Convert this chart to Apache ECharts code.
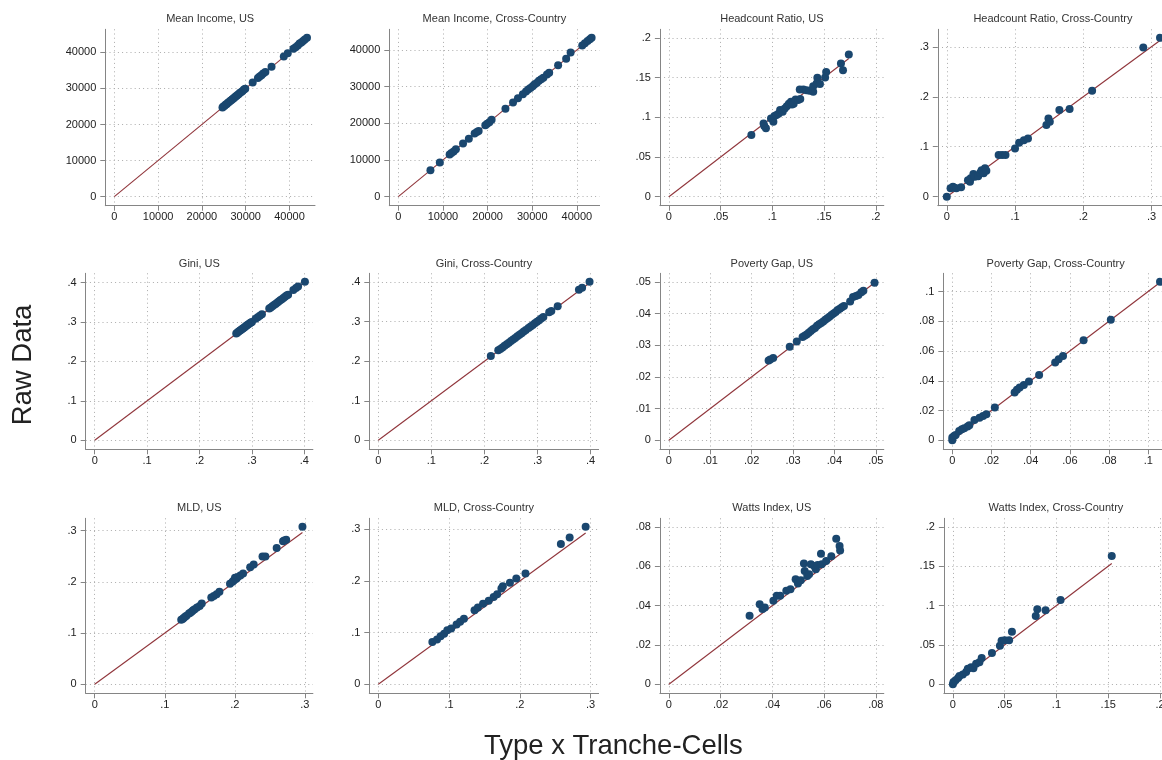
<!DOCTYPE html>
<html>
<head>
<meta charset="utf-8">
<script src="https://cdn.jsdelivr.net/npm/echarts@6/dist/echarts.min.js"></script>
<style>
html,body{margin:0;padding:0;background:#fff;}
#chart{width:1162px;height:760px;}
</style>
</head>
<body>
<div id="chart"></div>
<script>
// ---------- DATA ----------
const panelTitles = ["Mean Income, US","Mean Income, Cross-Country","Headcount Ratio, US","Headcount Ratio, Cross-Country",
  "Gini, US","Gini, Cross-Country","Poverty Gap, US","Poverty Gap, Cross-Country",
  "MLD, US","MLD, Cross-Country","Watts Index, US","Watts Index, Cross-Country"];
const yAxisTitle = "Raw Data";
const xAxisTitle = "Type x Tranche-Cells";

const ticksIncome = [0,10000,20000,30000,40000];
const ticksHeadUS = [0,0.05,0.1,0.15,0.2];
const ticksHeadCC = [0,0.1,0.2,0.3];
const ticksGini = [0,0.1,0.2,0.3,0.4];
const ticksGapUS = [0,0.01,0.02,0.03,0.04,0.05];
const ticksGapCC = [0,0.02,0.04,0.06,0.08,0.1];
const ticksMLD = [0,0.1,0.2,0.3];
const ticksWattsUS = [0,0.02,0.04,0.06,0.08];
const ticksWattsCC = [0,0.05,0.1,0.15,0.2];

const meanIncomeUS = [[24700,24700],[24900,24950],[25200,25150],[25450,25500],[25700,25700],[25950,26000],[26200,26200],[26450,26500],[26700,26700],[26950,27000],[27200,27200],[27450,27450],[27700,27750],[27950,27950],[28200,28250],[28450,28450],[28700,28750],[29000,29000],[29300,29300],[29600,29650],[29900,29900],[31600,31600],[32800,32900],[33200,33300],[33600,33600],[34000,34100],[34500,34500],[35900,36000],[38700,38800],[39600,39700],[40900,41000],[41400,41400],[41900,41900],[42300,42400],[42700,42700],[43100,43100],[43500,43500],[44000,44000]];
const meanIncomeCC = [[7200,7200],[9300,9300],[11500,11500],[11900,11900],[12400,12300],[12900,12900],[14500,14500],[15800,15800],[17100,17200],[17600,17600],[18000,17900],[19500,19500],[19900,19900],[20400,20300],[20900,21000],[24000,24000],[25700,25700],[26800,26800],[27900,27900],[28600,28700],[29100,29200],[29600,29600],[30100,30100],[30500,30600],[31000,31000],[31500,31600],[32000,32000],[32500,32400],[33300,33300],[33800,33800],[35800,35800],[37600,37600],[38600,39300],[41200,41200],[41800,41800],[42400,42400],[42900,42900],[43300,43300]];
const headcountUS = [[0.0797,0.0776],[0.0915,0.0922],[0.0922,0.0889],[0.0938,0.0860],[0.0987,0.0985],[0.1010,0.0943],[0.1020,0.1015],[0.1040,0.1027],[0.1060,0.1045],[0.1075,0.1090],[0.1100,0.1070],[0.1120,0.1110],[0.1140,0.1140],[0.1160,0.1170],[0.1180,0.1195],[0.1190,0.1160],[0.1206,0.1170],[0.1225,0.1224],[0.1250,0.1216],[0.1270,0.1230],[0.1265,0.1350],[0.1300,0.1350],[0.1330,0.1340],[0.1360,0.1333],[0.1395,0.1320],[0.1395,0.1390],[0.1428,0.1426],[0.1435,0.1497],[0.1460,0.1417],[0.1510,0.1500],[0.1520,0.1570],[0.1663,0.1677],[0.1683,0.1590],[0.1739,0.1790]];
const headcountCC = [[0,0],[0.0055,0.0167],[0.009,0.020],[0.011,0.018],[0.014,0.0167],[0.021,0.0187],[0.031,0.033],[0.034,0.030],[0.035,0.0367],[0.039,0.0453],[0.041,0.040],[0.046,0.041],[0.049,0.048],[0.051,0.053],[0.054,0.0467],[0.056,0.0567],[0.058,0.052],[0.076,0.0833],[0.081,0.0833],[0.086,0.0833],[0.100,0.0967],[0.106,0.108],[0.113,0.113],[0.119,0.1167],[0.146,0.1433],[0.149,0.1567],[0.151,0.150],[0.165,0.1733],[0.180,0.1753],[0.213,0.212],[0.288,0.2987],[0.3125,0.318]];
const giniUS = [[0.270,0.271],[0.272,0.273],[0.274,0.275],[0.276,0.277],[0.278,0.279],[0.280,0.281],[0.282,0.283],[0.284,0.285],[0.286,0.287],[0.288,0.289],[0.290,0.291],[0.292,0.293],[0.294,0.295],[0.296,0.297],[0.298,0.299],[0.300,0.300],[0.307,0.308],[0.311,0.312],[0.315,0.316],[0.319,0.320],[0.333,0.334],[0.336,0.337],[0.339,0.340],[0.342,0.343],[0.345,0.346],[0.348,0.349],[0.351,0.352],[0.354,0.355],[0.357,0.358],[0.360,0.361],[0.363,0.364],[0.366,0.367],[0.369,0.369],[0.379,0.381],[0.384,0.386],[0.388,0.390],[0.401,0.402]];
const giniCC = [[0.212,0.213],[0.226,0.228],[0.230,0.231],[0.234,0.235],[0.238,0.239],[0.242,0.243],[0.246,0.247],[0.250,0.251],[0.254,0.255],[0.258,0.259],[0.262,0.263],[0.266,0.267],[0.270,0.271],[0.274,0.275],[0.278,0.279],[0.283,0.284],[0.287,0.288],[0.291,0.292],[0.295,0.296],[0.299,0.300],[0.303,0.304],[0.307,0.308],[0.311,0.312],[0.322,0.324],[0.326,0.327],[0.338,0.339],[0.378,0.381],[0.384,0.386],[0.398,0.401]];
const povertyGapUS = [[0.0241,0.0252],[0.0245,0.0255],[0.0252,0.0260],[0.0292,0.0295],[0.0309,0.0312],[0.0323,0.0326],[0.0328,0.0330],[0.0333,0.0334],[0.0338,0.0339],[0.0343,0.0345],[0.0348,0.0350],[0.0353,0.0354],[0.0358,0.0361],[0.0363,0.0366],[0.0368,0.0370],[0.0373,0.0375],[0.0378,0.0380],[0.0383,0.0385],[0.0388,0.0390],[0.0393,0.0395],[0.0398,0.0400],[0.0403,0.0405],[0.0408,0.0411],[0.0413,0.0415],[0.0418,0.0420],[0.0423,0.0424],[0.0438,0.0438],[0.0445,0.0452],[0.0452,0.0455],[0.0458,0.0458],[0.0465,0.0467],[0.0470,0.0472],[0.0497,0.0497]];
const povertyGapCC = [[0,0],[0,0.0018],[0.0009,0.0029],[0.0017,0.0036],[0.0035,0.0063],[0.0049,0.0074],[0.0061,0.0081],[0.0078,0.0092],[0.0087,0.0101],[0.0113,0.0137],[0.0139,0.0152],[0.0157,0.0164],[0.0174,0.0175],[0.0217,0.0220],[0.0318,0.0321],[0.0330,0.0339],[0.0344,0.0354],[0.0365,0.0372],[0.0391,0.0395],[0.0443,0.0439],[0.0525,0.0522],[0.0543,0.0545],[0.0565,0.0567],[0.0670,0.0673],[0.0809,0.0810],[0.1060,0.1065]];
const mldUS = [[0.1235,0.1260],[0.1255,0.1275],[0.1270,0.1293],[0.1290,0.1320],[0.1310,0.1338],[0.1346,0.1383],[0.1365,0.1400],[0.1387,0.1422],[0.1405,0.1445],[0.1427,0.1467],[0.1460,0.1500],[0.1498,0.1532],[0.1528,0.1577],[0.1664,0.1694],[0.1700,0.1726],[0.1740,0.1758],[0.1780,0.1810],[0.1931,0.1965],[0.1967,0.2004],[0.1985,0.2030],[0.2002,0.2081],[0.2022,0.2060],[0.2042,0.2094],[0.2078,0.2127],[0.2118,0.2166],[0.2219,0.2288],[0.2269,0.2340],[0.2395,0.2495],[0.2436,0.2495],[0.2597,0.2663],[0.2688,0.2793],[0.2705,0.2810],[0.2733,0.2825],[0.2965,0.3077]];
const mldCC = [[0.0764,0.0820],[0.0830,0.0866],[0.0880,0.0930],[0.0930,0.0980],[0.0975,0.1047],[0.1030,0.1080],[0.1106,0.1157],[0.1156,0.1210],[0.1210,0.1270],[0.1360,0.1435],[0.1407,0.1487],[0.1480,0.1560],[0.1560,0.1616],[0.1630,0.1690],[0.1680,0.1745],[0.1740,0.1855],[0.1760,0.1900],[0.1860,0.1965],[0.1950,0.2050],[0.2080,0.2146],[0.2580,0.2715],[0.2704,0.2844],[0.2930,0.3050]];
const wattsUS = [[0.0312,0.0348],[0.0351,0.0407],[0.0362,0.0382],[0.0371,0.0390],[0.0404,0.0424],[0.0417,0.0450],[0.0430,0.0450],[0.0454,0.0475],[0.0470,0.0483],[0.0490,0.0534],[0.0499,0.0512],[0.0510,0.0529],[0.0522,0.0613],[0.0525,0.0576],[0.0535,0.0550],[0.0542,0.0559],[0.0549,0.0610],[0.0562,0.0601],[0.0568,0.0584],[0.0575,0.0606],[0.0588,0.0663],[0.0591,0.0610],[0.0608,0.0626],[0.0628,0.0650],[0.0647,0.0739],[0.0660,0.0702],[0.0662,0.0680]];
const wattsCC = [[0,0],[0.0006,0.003],[0.0026,0.005],[0.005,0.008],[0.0064,0.0105],[0.0096,0.0126],[0.0128,0.0155],[0.0144,0.0197],[0.0176,0.0218],[0.0198,0.0205],[0.0224,0.026],[0.0256,0.028],[0.0278,0.0335],[0.0377,0.0398],[0.0454,0.049],[0.047,0.0553],[0.050,0.056],[0.0543,0.056],[0.057,0.0667],[0.080,0.0868],[0.0815,0.0952],[0.0895,0.094],[0.104,0.107],[0.1534,0.163]];

const panelData = [meanIncomeUS, meanIncomeCC, headcountUS, headcountCC, giniUS, giniCC, povertyGapUS, povertyGapCC, mldUS, mldCC, wattsUS, wattsCC];
const panelTicks = [ticksIncome, ticksIncome, ticksHeadUS, ticksHeadCC, ticksGini, ticksGini, ticksGapUS, ticksGapCC, ticksMLD, ticksMLD, ticksWattsUS, ticksWattsCC];

// ---------- LAYOUT (pixels: left, top, right, bottom of each plot region) ----------
const boxes = [
  [105.3,29.3,315,205.7],[389.3,29.3,599.6,205.7],[659.9,29.3,883.8,205.7],[937.8,29.3,1168,205.7],
  [85.7,273.3,312.9,449.3],[369.3,273.3,598.6,449.3],[659.9,273.3,883.8,449.3],[943.3,273.3,1168,449.3],
  [85.7,518.3,312.9,693.3],[369.3,518.3,598.6,693.3],[659.9,518.3,883.8,693.3],[943.9,518.3,1168,693.3]
];
const titleY = [19, 264, 508.3];
const PAD_L = 9, PAD_R = 8, PAD_B = 9, PAD_T = 8.5;

const FONT = "'Liberation Sans', Arial, Helvetica, sans-serif";
const NAVY = '#1a476f', MAROON = '#90353b', AXISC = '#858585', TXT = '#222';

function fmt(v){
  if (Math.abs(v) < 1e-12) return '0';
  if (Math.abs(v) >= 1) return String(Math.round(v));
  return String(parseFloat(v.toPrecision(6))).replace(/^0\./,'.');
}

const grids = [], xAxes = [], yAxes = [], series = [], graphics = [];
panelData.forEach((pts, i) => {
  const [l,t,r,b] = boxes[i];
  const w = r - l, h = b - t;
  const ticks = panelTicks[i];
  const lastTick = ticks[ticks.length-1];
  const maxX = Math.max.apply(null, pts.map(p=>p[0]));
  const maxY = Math.max.apply(null, pts.map(p=>p[1]));
  const hiX = Math.max(lastTick, maxX), hiY = Math.max(lastTick, maxY);
  const sx = (w - PAD_L - PAD_R) / hiX, sy = (h - PAD_B - PAD_T) / hiY;
  grids.push({left:l, top:t, width:w, height:h, outerBoundsMode:'none', containLabel:false});
  const common = (ticks) => ({
    type:'value', gridIndex:i,
    axisLine:{show:true, onZero:false, lineStyle:{color:AXISC, width:1}},
    axisTick:{show:true, inside:false, length:5, customValues:ticks, lineStyle:{color:AXISC, width:1}},
    axisLabel:{customValues:ticks, formatter:fmt, fontSize:11, color:TXT, fontFamily:FONT},
    splitLine:{show:true, lineStyle:{color:'#ababab', width:1, type:[1,3.2]}}
  });
  const xa = common(ticks);
  xa.min = -PAD_L / sx; xa.max = hiX + PAD_R / sx;
  xa.axisLabel.margin = 6;
  const ya = common(ticks);
  ya.min = -PAD_B / sy; ya.max = hiY + PAD_T / sy;
  ya.axisLabel.margin = 9;
  xAxes.push(xa); yAxes.push(ya);
  series.push({type:'line', xAxisIndex:i, yAxisIndex:i, data:[[0,0],[maxX,maxX]], symbol:'none',
    lineStyle:{color:MAROON, width:1.1}, silent:true, z:2, animation:false});
  series.push({type:'scatter', xAxisIndex:i, yAxisIndex:i, data:pts, symbol:'circle', symbolSize:8,
    itemStyle:{color:NAVY, opacity:1}, z:3, animation:false});
  graphics.push({type:'text', x:(l+r)/2, y:titleY[Math.floor(i/4)],
    style:{text:panelTitles[i], font:'11px '+FONT, fill:'#333', align:'center', verticalAlign:'middle', textAlign:'center', textVerticalAlign:'middle'}});
});
graphics.push({type:'text', x:23, y:365, rotation:Math.PI/2,
  style:{text:yAxisTitle, font:'27.5px '+FONT, fill:TXT, align:'center', verticalAlign:'middle', textAlign:'center', textVerticalAlign:'middle'}});
graphics.push({type:'text', x:613.3, y:746, 
  style:{text:xAxisTitle, font:'27.5px '+FONT, fill:TXT, align:'center', verticalAlign:'middle', textAlign:'center', textVerticalAlign:'middle'}});

const chart = echarts.init(document.getElementById('chart'), null, {renderer:'canvas'});
chart.setOption({
  animation:false,
  backgroundColor:'#fff',
  textStyle:{fontFamily:FONT},
  grid:grids, xAxis:xAxes, yAxis:yAxes, series:series, graphic:graphics
});
</script>
</body>
</html>
